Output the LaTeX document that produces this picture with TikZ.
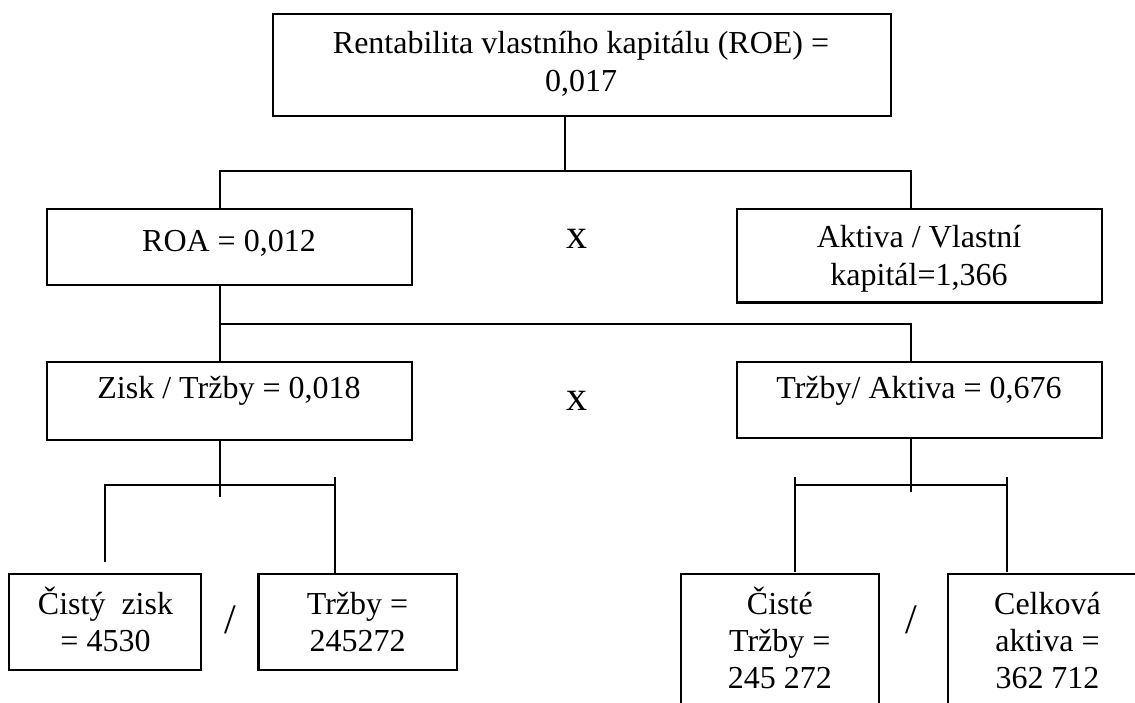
\documentclass[tikz,border=0pt]{standalone}
\usepackage{fontspec}
\setmainfont{Liberation Serif}
\begin{document}
\begin{tikzpicture}[x=0.5pt,y=-0.5pt,
  boxst/.style={draw, line width=1.35pt, inner sep=0pt, rectangle},
  txt/.style={inner sep=0pt, anchor=base, align=center, font=\fontsize{16}{18.6}\selectfont},
  big/.style={inner sep=0pt, anchor=base, font=\fontsize{21}{24}\selectfont},
  conn/.style={line width=1.25pt}]
\useasboundingbox (0,0) rectangle (1135,702);
\clip (0,0) rectangle (1135,702);
% boxes
\node[boxst, minimum width=309pt, minimum height=51pt] (roe) at (582,65) {};
\node[boxst, minimum width=182.5pt, minimum height=38pt] (roa) at (229.5,247) {};
\node[boxst, minimum width=182.5pt, minimum height=46.75pt] (akt) at (919.5,255.75) {};
\node[boxst, minimum width=182.5pt, minimum height=39pt] (zisk) at (229.5,401) {};
\node[boxst, minimum width=182.5pt, minimum height=38pt] (trak) at (919.5,400) {};
\node[boxst, minimum width=96pt, minimum height=48pt] (cz) at (105,622) {};
\node[boxst, minimum width=99.25pt, minimum height=48pt] (tr) at (357.75,622) {};
\node[boxst, minimum width=99pt, minimum height=73pt] (ct) at (780,647) {};
\node[boxst, minimum width=101pt, minimum height=73pt] (ca) at (1049,647) {};
% texts (anchor = baseline of the last line)
\node[txt] (roet) at (581,91) {Rentabilita vlastního kapitálu (ROE) =\\0,017};
\node[txt] (roat) at (229,251) {ROA = 0,012};
\node[txt] (aktt) at (919,285) {Aktiva / Vlastní\\kapitál=1,366};
\node[txt] (ziskt) at (229,398) {Zisk / Tržby = 0,018};
\node[txt] (trakt) at (919,398) {Tržby/ Aktiva = 0,676};
\node[txt] (czt) at (105.5,651.7) {Čistý\ \ zisk\\= 4530};
\node[txt] (trt) at (357.5,651.7) {Tržby =\\245272};
\node[txt] (ctt) at (779.8,688.5) {Čisté\\Tržby =\\245 272};
\node[txt] (cat) at (1047.5,688.5) {Celková\\aktiva =\\362 712};
\node[big] (x1) at (576.5,248) {x};
\node[big] (x2) at (576.5,410) {x};
\node[big] (s1) at (230,633) {/};
\node[big] (s2) at (911,633) {/};
% junction coordinates
\coordinate (j1) at (565,171);
\coordinate (h1l) at (220,171);
\coordinate (h1r) at (911,171);
\coordinate (h2l) at (220,324);
\coordinate (h2r) at (911,324);
\coordinate (t3l) at (220,497);
\coordinate (b3l) at (105,485);
\coordinate (b3r) at (335,485);
\coordinate (b3rt) at (335,477);
\coordinate (e3l) at (105,562);
\coordinate (t3r) at (911,492);
\coordinate (c3l) at (795,485);
\coordinate (c3r) at (1007,485);
\coordinate (c3lt) at (795,477);
\coordinate (c3rt) at (1007,477);
\coordinate (e3a) at (795,572);
\coordinate (e3b) at (1007,572);
% connectors
\draw[conn] (roe.south -| j1) -- (j1);
\draw[conn] (roa.north -| h1l) -- (h1l) -- (h1r) -- (akt.north -| h1r);
\draw[conn] (roa.south -| h2l) -- (zisk.north -| h2l);
\draw[conn] (h2l) -- (h2r) -- (trak.north -| h2r);
\draw[conn] (zisk.south -| t3l) -- (t3l);
\draw[conn] (e3l) -- (b3l) -- (b3r);
\draw[conn] (b3rt) -- (tr.north -| b3rt);
\draw[conn] (trak.south -| t3r) -- (t3r);
\draw[conn] (c3l) -- (c3r);
\draw[conn] (c3lt) -- (e3a);
\draw[conn] (c3rt) -- (e3b);
\end{tikzpicture}
\end{document}
